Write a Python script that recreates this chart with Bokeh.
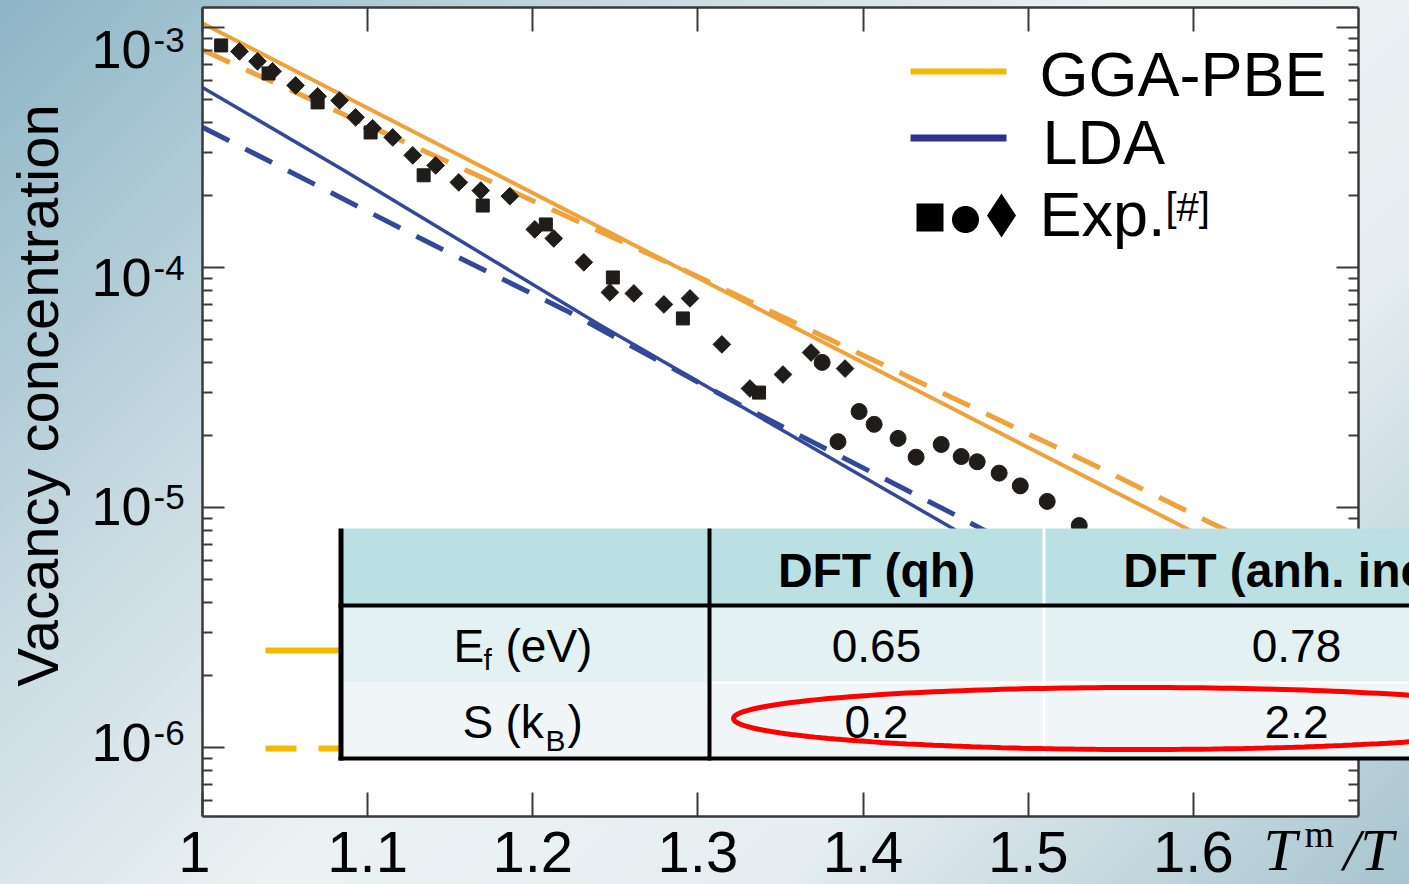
import math
import numpy as np
from bokeh.plotting import figure
from bokeh.models import (Range1d, LinearAxis, LogAxis, FixedTicker, CustomJSTickFormatter,
                          ColumnDataSource, LabelSet, BoxAnnotation, PolyAnnotation)
from bokeh.core.properties import value
from bokeh.embed import file_html
from bokeh.resources import INLINE

# ---------------- data ----------------
# calculated vacancy concentration vs. Tm/T
gga_anh_x = [1.00, 1.15, 1.30, 1.45, 1.60, 1.70]
gga_anh_c = [1.04e-3, 3.07e-4, 9.05e-5, 2.67e-5, 7.9e-6, 3.5e-6]
gga_qh_x = [1.00, 1.156, 1.292, 1.54, 1.61, 1.70]
gga_qh_c = [8.05e-4, 2.61e-4, 9.72e-5, 1.50e-5, 8.66e-6, 4.4e-6]
lda_anh_x = [1.00, 1.0855, 1.2412, 1.4533, 1.64]
lda_anh_c = [5.62e-4, 2.54e-4, 5.73e-5, 8.25e-6, 1.47e-6]
lda_qh_x = [1.00, 1.143, 1.22, 1.3248, 1.4564, 1.64]
lda_qh_c = [3.84e-4, 1.21e-4, 6.62e-5, 2.69e-5, 9.26e-6, 1.98e-6]

# experimental data sets
exp_sq_x = [1.0113, 1.0400, 1.0697, 1.1018, 1.1339, 1.1697, 1.2079, 1.2485, 1.2909, 1.3370]
exp_sq_c = [8.41e-4, 6.43e-4, 4.87e-4, 3.65e-4, 2.42e-4, 1.81e-4, 1.51e-4, 9.08e-5, 6.13e-5, 3.01e-5]
exp_di_x = [1.0224, 1.0333, 1.0424, 1.0564, 1.0697, 1.0830, 1.0927, 1.1030, 1.1152, 1.1273,
            1.1412, 1.1552, 1.1685, 1.1861, 1.2012, 1.2127, 1.2309, 1.2467, 1.2612, 1.2794,
            1.2952, 1.3145, 1.3315, 1.3515, 1.3685, 1.3891]
exp_di_c = [7.94e-4, 7.22e-4, 6.56e-4, 5.73e-4, 5.16e-4, 4.96e-4, 4.22e-4, 3.80e-4, 3.48e-4, 2.93e-4,
            2.66e-4, 2.26e-4, 2.09e-4, 1.98e-4, 1.44e-4, 1.32e-4, 1.05e-4, 7.87e-5, 7.79e-5, 7.01e-5,
            7.43e-5, 4.78e-5, 3.13e-5, 3.58e-5, 4.42e-5, 3.79e-5]
exp_ci_x = [1.3752, 1.3848, 1.3976, 1.4067, 1.4212, 1.4321, 1.4473, 1.4594, 1.4691, 1.4824,
            1.4952, 1.5115, 1.5309]
exp_ci_c = [4.02e-5, 1.88e-5, 2.51e-5, 2.22e-5, 1.94e-5, 1.62e-5, 1.83e-5, 1.63e-5, 1.55e-5, 1.39e-5,
            1.23e-5, 1.06e-5, 8.41e-6]

# axis ticks
x_tick_values = [1.0, 1.1, 1.2, 1.3, 1.4, 1.5, 1.6]
x_tick_labels = ["1", "1.1", "1.2", "1.3", "1.4", "1.5", "1.6"]
y_tick_values = [1e-3, 1e-4, 1e-5, 1e-6]
y_tick_exponents = ["-3", "-4", "-5", "-6"]

# inset table
table_columns = ["DFT (qh)", "DFT (anh. incl.)"]
formation_energy_eV = [0.65, 0.78]
formation_entropy_kB = [0.2, 2.2]

legend_labels = ["GGA-PBE", "LDA", "Exp."]

# ---------------- layout & styling ----------------
W, H = 1409, 884
X0, X1 = 1.0, 1.70                  # data extent of the framed plot area
Y0, Y1 = 5.16e-7, 1.21e-3
BL, BR, BT, BB = 202, 51, 7, 68     # margins of the framed area inside the canvas
PW, PH = W - BL - BR, H - BT - BB

# canvas-wide ranges so that annotations in the margins are not clipped
dx = (X1 - X0) / PW
ly0, ly1 = math.log10(Y0), math.log10(Y1)
dly = (ly1 - ly0) / PH
x_range = Range1d(X0 - BL * dx, X1 + BR * dx)
y_range = Range1d(10 ** (ly0 - BB * dly), 10 ** (ly1 + BT * dly))

SANS = "Liberation Sans"
SERIF = "Liberation Serif"
ORANGE = "#f0a13a"
BLUE = "#34489b"
KEY_YELLOW = "#f5b800"
KEY_BLUE = "#2e3192"
MARK = "#1f1c19"
AXIS = "#3a3a3a"


def sy(py):
    return H - py


p = figure(width=W, height=H, x_range=x_range, y_range=y_range,
           y_axis_type="log", x_axis_location=None, y_axis_location=None,
           output_backend="svg", toolbar_location=None, min_border=0,
           background_fill_color=None, background_fill_alpha=0,
           border_fill_color=None, border_fill_alpha=0, outline_line_color=None)
p.styles = {"background-image": "linear-gradient(135deg, #8db5c6 0%, #c6d9e1 27%, #ecf2f4 50%, "
                                "#e6eef1 72%, #a7c4cf 100%)"}
p.xgrid.grid_line_color = None
p.ygrid.grid_line_color = None

# white plotting area
p.add_layout(BoxAnnotation(left=X0, right=X1, bottom=Y0, top=Y1, fill_color="white",
                           fill_alpha=1.0, line_color=None, level="underlay"))

blank = CustomJSTickFormatter(code="return ''")
minor_y = [m * 10.0 ** e for e in range(-7, -2) for m in range(2, 10)
           if Y0 < m * 10.0 ** e < Y1]

for loc, where in (("below", Y0), ("above", Y1)):
    ax = LinearAxis(fixed_location=where, bounds=(X0, X1),
                    ticker=FixedTicker(ticks=x_tick_values), formatter=blank,
                    major_tick_in=24, major_tick_out=0, minor_tick_in=0, minor_tick_out=0,
                    major_label_text_font_size="0px", major_label_standoff=0,
                    axis_line_color=AXIS, axis_line_width=2.5,
                    major_tick_line_color=AXIS, major_tick_line_width=2)
    p.add_layout(ax, loc)

for loc, where in (("left", X0), ("right", X1)):
    ax = LogAxis(fixed_location=where, bounds=(Y0, Y1),
                 ticker=FixedTicker(ticks=y_tick_values, minor_ticks=minor_y), formatter=blank,
                 major_tick_in=22, major_tick_out=0, minor_tick_in=10, minor_tick_out=0,
                 major_label_text_font_size="0px", major_label_standoff=0,
                 axis_line_color=AXIS, axis_line_width=2.5,
                 major_tick_line_color=AXIS, major_tick_line_width=2,
                 minor_tick_line_color=AXIS, minor_tick_line_width=2)
    p.add_layout(ax, loc)

# calculated curves
p.line(gga_anh_x, gga_anh_c, line_color=ORANGE, line_width=4)
p.line(gga_qh_x, gga_qh_c, line_color=ORANGE, line_width=5, line_dash="30 18")
p.line(lda_anh_x, lda_anh_c, line_color=BLUE, line_width=3.5)
p.line(lda_qh_x, lda_qh_c, line_color=BLUE, line_width=5, line_dash="30 18")

# experiments
p.scatter(exp_sq_x, exp_sq_c, marker="square", size=13, color=MARK)
p.scatter(exp_di_x, exp_di_c, marker="square", angle=np.pi / 4, size=12.5, color=MARK)
p.scatter(exp_ci_x, exp_ci_c, marker="circle", size=16, color=MARK)


def box(l, t, r, b, color):
    p.add_layout(BoxAnnotation(left=l, right=r, top=sy(t), bottom=sy(b),
                               left_units="screen", right_units="screen",
                               top_units="screen", bottom_units="screen",
                               fill_color=color, fill_alpha=1.0, line_color=None))


def poly(pts_x, pts_y, fill=None, line=None, width=1):
    p.add_layout(PolyAnnotation(xs=list(pts_x), ys=[sy(v) for v in pts_y],
                                xs_units="screen", ys_units="screen",
                                fill_color=fill, fill_alpha=1.0 if fill else 0.0,
                                line_color=line, line_alpha=1.0, line_width=width))


def text_style(size, font=SANS, style="normal", align="left"):
    return dict(text_font=value(font), text_font_size=f"{size}px", text_font_style=style,
                text_align=align, text_baseline="alphabetic", text_color="black")


def label(px, py, text, size, font=SANS, style="normal", align="left", angle=0.0):
    src = ColumnDataSource(dict(x=[px], y=[sy(py)], text=[text]))
    p.add_layout(LabelSet(x="x", y="y", text="text", source=src, x_units="screen",
                          y_units="screen", angle=angle,
                          **text_style(size, font, style, align)))


# tick labels
xs_src = ColumnDataSource(dict(x=x_tick_values, text=x_tick_labels,
                               dx=[-8, 0, 0, 0, 0, 0, 0]))
p.add_layout(LabelSet(x="x", y=sy(871), text="text", source=xs_src, x_units="data",
                      y_units="screen", x_offset="dx", **text_style(58, align="center")))

ys_src = ColumnDataSource(dict(y=y_tick_values, exp=y_tick_exponents,
                               base=["10"] * 4, dy=[-41, -29, -18, -13],
                               dsup=[-25, -13, -2, 3]))
p.add_layout(LabelSet(x=151, y="y", text="base", source=ys_src, x_units="screen",
                      y_units="data", y_offset="dy", **text_style(54, align="right")))
p.add_layout(LabelSet(x=153, y="y", text="exp", source=ys_src, x_units="screen",
                      y_units="data", y_offset="dsup", **text_style(35)))

# axis titles
label(57, 395, "Vacancy concentration", 58, align="center", angle=np.pi / 2)
label(1263, 869, "T", 60, font=SERIF, style="italic")
label(1304, 846, "m", 38, font=SERIF)
label(1343, 869, "/T", 60, font=SERIF, style="italic")

# legend
box(910, 68, 1006, 74, KEY_YELLOW)
box(910, 134, 1006, 141, KEY_BLUE)
box(916, 203, 943, 231, "black")
t = np.linspace(0, 2 * np.pi, 49)
poly(965 + 13.5 * np.cos(t), 219 + 13.5 * np.sin(t), fill="black")
poly([1001, 1015.5, 1001, 986.5], [193, 215, 237, 215], fill="black")
label(1039, 95, legend_labels[0], 63)
label(1042, 163, legend_labels[1], 63)
label(1039, 235, legend_labels[2], 63)
label(1165, 220, "[#]", 40)

# key lines of the inset
box(265, 647, 345, 653, KEY_YELLOW)
box(265, 745, 296, 751, KEY_YELLOW)
box(318, 745, 345, 751, KEY_YELLOW)

# inset table
box(340, 528, 1420, 604, "#bbe0e3")
box(340, 604, 1420, 682, "#e4f1f3")
box(340, 682, 1420, 758, "#f0f6f8")
box(1042, 528, 1045, 758, "white")
box(711, 681, 1420, 683, "white")
box(338, 528, 343, 760, "black")
box(707, 528, 711, 760, "black")
box(338, 603, 1420, 607, "black")
box(338, 756, 1420, 760, "black")

col_centers = [876, 1296]
head_src = ColumnDataSource(dict(x=col_centers, text=table_columns))
p.add_layout(LabelSet(x="x", y=sy(586), text="text", source=head_src, x_units="screen",
                      y_units="screen", **text_style(48, style="bold", align="center")))
val_src = ColumnDataSource(dict(
    x=col_centers * 2,
    y=[sy(661)] * 2 + [sy(737)] * 2,
    text=[f"{v:.2f}" for v in formation_energy_eV] + [f"{v:.1f}" for v in formation_entropy_kB]))
p.add_layout(LabelSet(x="x", y="y", text="text", source=val_src, x_units="screen",
                      y_units="screen", **text_style(46, align="center")))

label(453, 661, "E", 46)
label(483, 669, "f", 30)
label(505, 661, "(eV)", 46)
label(462, 737, "S", 46)
label(505, 737, "(k", 46)
label(545, 750, "B", 30)
label(567, 737, ")", 46)

# highlight around the entropy row
t = np.linspace(0, 2 * np.pi, 240)
poly(1140 + 407 * np.cos(t), 718 + 31 * np.sin(t), line="#ff0000", width=5)

open("out.html", "w").write(file_html(p, INLINE))
